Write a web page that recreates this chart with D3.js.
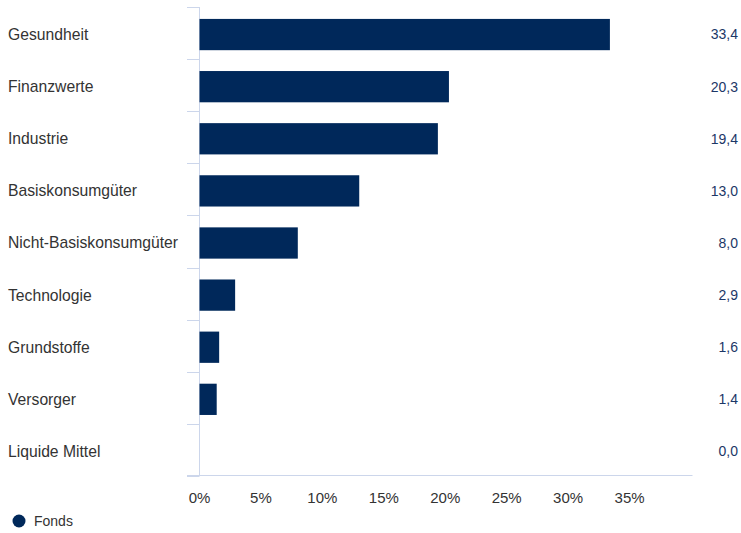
<!DOCTYPE html>
<html>
<head>
<meta charset="utf-8">
<script src="https://cdn.jsdelivr.net/npm/d3@7"></script>
<style>
  body { margin: 0; background: #fff; }
  text { font-family: "Liberation Sans", Arial, sans-serif; }
</style>
</head>
<body>
<script>
var categories = ["Gesundheit", "Finanzwerte", "Industrie", "Basiskonsumgüter",
  "Nicht-Basiskonsumgüter", "Technologie", "Grundstoffe", "Versorger", "Liquide Mittel"];
var values = [33.4, 20.3, 19.4, 13.0, 8.0, 2.9, 1.6, 1.4, 0.0];
var xTicks = [0, 5, 10, 15, 20, 25, 30, 35];
var seriesName = "Fonds";

var width = 741, height = 533;
var barColor = "#00285a";
var gridColor = "#ccd6eb";

var svg = d3.select("body").append("svg")
  .attr("width", width)
  .attr("height", height);

var x = d3.scaleLinear().domain([0, 40]).range([199.5, 691]);
var y = d3.scaleBand().domain(categories).range([7, 476])
  .paddingInner(0.4).paddingOuter(0.2);

// category separators (left ticks)
var step = y.step();
var sepY = d3.range(categories.length + 1).map(function(i) { return 7 + i * step; });
svg.append("g").selectAll("line")
  .data(sepY).enter()
  .append("line")
  .attr("x1", 187).attr("x2", 199.5)
  .attr("y1", function(d) { return Math.round(d) + 0.5; })
  .attr("y2", function(d) { return Math.round(d) + 0.5; })
  .attr("stroke", gridColor).attr("stroke-width", 1);

// vertical axis line
svg.append("line")
  .attr("x1", 199.5).attr("x2", 199.5)
  .attr("y1", 7).attr("y2", 476)
  .attr("stroke", gridColor);

// bottom axis line
svg.append("line")
  .attr("x1", 187).attr("x2", 692.5)
  .attr("y1", 475.5).attr("y2", 475.5)
  .attr("stroke", gridColor);

// bars
svg.append("g").selectAll("rect")
  .data(values).enter()
  .append("rect")
  .attr("x", x(0))
  .attr("y", function(d, i) { return y(categories[i]) + 1.5; })
  .attr("width", function(d) { return x(d) - x(0); })
  .attr("height", y.bandwidth())
  .attr("fill", barColor);

// category labels
svg.append("g").selectAll("text")
  .data(categories).enter()
  .append("text")
  .attr("x", 8)
  .attr("y", function(d) { return y(d) + y.bandwidth() / 2 + 1.5; })
  .attr("dy", "0.35em")
  .attr("font-size", "15.7px")
  .attr("fill", "#333333")
  .text(function(d) { return d; });

// value labels
svg.append("g").selectAll("text")
  .data(values).enter()
  .append("text")
  .attr("x", 738)
  .attr("y", function(d, i) { return y(categories[i]) + y.bandwidth() / 2 + 1.5; })
  .attr("dy", "0.35em")
  .attr("text-anchor", "end")
  .attr("font-size", "14px")
  .attr("fill", "#1c3767")
  .text(function(d) { return d.toFixed(1).replace(".", ","); });

// x tick labels
svg.append("g").selectAll("text")
  .data(xTicks).enter()
  .append("text")
  .attr("x", function(d) { return x(d); })
  .attr("y", 503)
  .attr("text-anchor", "middle")
  .attr("font-size", "15px")
  .attr("fill", "#333333")
  .text(function(d) { return d + "%"; });

// legend
svg.append("circle")
  .attr("cx", 19).attr("cy", 521).attr("r", 6.5)
  .attr("fill", barColor);
svg.append("text")
  .attr("x", 34).attr("y", 521)
  .attr("dy", "0.35em")
  .attr("font-size", "14px")
  .attr("fill", "#333333")
  .text(seriesName);
</script>
</body>
</html>
